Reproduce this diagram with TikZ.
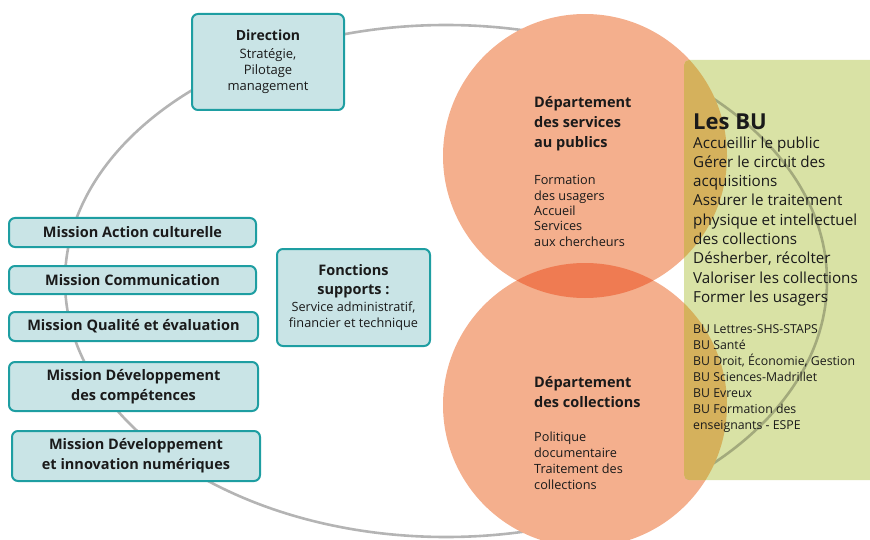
\documentclass[tikz,border=0pt]{standalone}
\usepackage{fontspec}
\setmainfont{Open Sans}
\definecolor{boxline}{HTML}{1E9EA2}
\definecolor{boxfill}{HTML}{C9E4E6}
\definecolor{ringgray}{HTML}{B4B4B4}
\definecolor{orangec}{HTML}{F4AF8D}
\definecolor{lensc}{HTML}{EF7B52}
\definecolor{greenp}{HTML}{D9E2A5}
\definecolor{ochre}{HTML}{D5B15C}
\definecolor{oliveline}{HTML}{A3AA7C}
\definecolor{txt}{HTML}{1A1A1A}
\begin{document}
\begin{tikzpicture}[x=1pt,y=-1pt,
  box/.style={draw=boxline, line width=2pt, fill=boxfill, rounded corners=6pt,
    align=center, inner sep=0pt, text=txt},
  mtext/.style={font=\fontsize{14.5}{20}\selectfont\bfseries},
  lbl/.style={anchor=base west, align=left, inner sep=0pt, text=txt},
  ring/.style={draw=ringgray, line width=2.6pt}]
\useasboundingbox (0,0) rectangle (870,540);
% big ring
\draw[ring] (446,281) ellipse [x radius=381pt, y radius=256pt];
% circles
\fill[orangec] (585,156) circle (142pt);
\fill[orangec] (585,405) circle (142pt);
\begin{scope}
  \clip (585,156) circle (142pt);
  \fill[lensc] (585,405) circle (142pt);
\end{scope}
% green panel
\fill[greenp, rounded corners=5pt] (684,60) rectangle (880,480);
\begin{scope}
  \clip[rounded corners=5pt] (684,60) rectangle (880,480);
  \draw[oliveline, line width=2.6pt] (446,281) ellipse [x radius=381pt, y radius=256pt];
  \fill[ochre] (585,156) circle (142pt);
  \fill[ochre] (585,405) circle (142pt);
\end{scope}
% boxes
\node[box, font=\fontsize{13}{16}\selectfont, minimum width=152pt, minimum height=96pt] (dir) at (268,62)
  {{\fontsize{14}{16}\selectfont\bfseries Direction}\\[2pt] Stratégie,\\ Pilotage\\ management};
\node[box, mtext, minimum width=247pt, minimum height=29pt] (mac) at (132.5,232.5) {Mission Action culturelle};
\node[box, mtext, minimum width=247pt, minimum height=28pt] (mcom) at (132.5,280) {Mission Communication};
\node[box, mtext, minimum width=249pt, minimum height=29pt] (mqual) at (133.5,326.5) {Mission Qualité et évaluation};
\node[box, mtext, minimum width=249pt, minimum height=49pt] (mcomp) at (133.5,386.5) {Mission Développement\\ des compétences};
\node[box, mtext, minimum width=248pt, minimum height=50pt] (mnum) at (136,456) {Mission Développement\\ et innovation numériques};
\node[box, font=\fontsize{12.7}{16}\selectfont, minimum width=153pt, minimum height=97pt] (fonc) at (353.5,297.5)
  {{\fontsize{14.5}{16}\selectfont\bfseries Fonctions}\\[3pt] {\fontsize{14.5}{16}\selectfont\bfseries supports :}\\[1pt]
   Service administratif,\\ financier et technique};
% circle texts (base = last line baseline)
\node[lbl, font=\fontsize{14.5}{20}\selectfont\bfseries] (dsph) at (534,148) {Département\\ des services\\ au publics};
\node[lbl, font=\fontsize{12.7}{15.5}\selectfont] (dspt) at (534,246.5) {Formation\\ des usagers\\ Accueil\\ Services\\ aux chercheurs};
\node[lbl, font=\fontsize{14.5}{20}\selectfont\bfseries] (dch) at (534,407) {Département\\ des collections};
\node[lbl, font=\fontsize{12.7}{16}\selectfont] (dct) at (534,489.5) {Politique\\ documentaire\\ Traitement des\\ collections};
% BU panel texts
\node[lbl, font=\fontsize{22}{24}\selectfont\bfseries] (buh) at (693,130) {Les BU};
\node[lbl, font=\fontsize{15.2}{19.3}\selectfont] (but) at (693,302.4) {Accueillir le public\\ Gérer le circuit des\\ acquisitions\\ Assurer le traitement\\ physique et intellectuel\\ des collections\\ Désherber, récolter\\ Valoriser les collections\\ Former les usagers};
\node[lbl, font=\fontsize{12.3}{16}\selectfont] (bul) at (693,429.5) {BU Lettres-SHS-STAPS\\ BU Santé\\ BU Droit, Économie, Gestion\\ BU Sciences-Madrillet\\ BU Evreux\\ BU Formation des\\ enseignants - ESPE};
\end{tikzpicture}
\end{document}
